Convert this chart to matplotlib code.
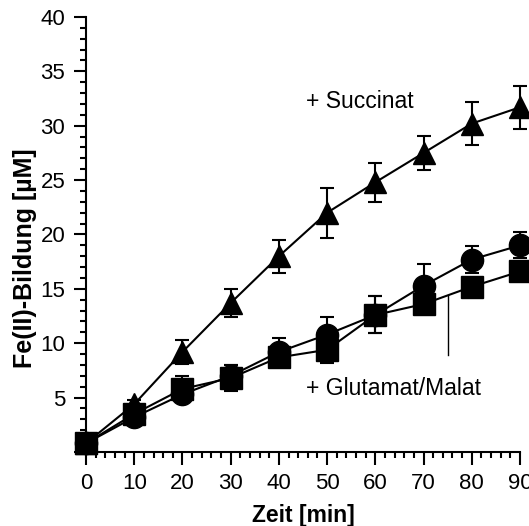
import numpy as np
import matplotlib.pyplot as plt
from matplotlib.ticker import MultipleLocator, FuncFormatter

plt.rcParams['font.family'] = ['Liberation Sans', 'DejaVu Sans']

zeit = [0, 10, 20, 30, 40, 50, 60, 70, 80, 90]

succinat = [0.8, 4.4, 9.2, 13.7, 18.0, 22.0, 24.8, 27.5, 30.2, 31.7]
succinat_err = [0.3, 0.4, 1.1, 1.3, 1.5, 2.3, 1.8, 1.6, 2.0, 2.0]

glut_kreis = [0.8, 3.2, 5.3, 7.0, 9.2, 10.8, 12.6, 15.3, 17.7, 19.0]
glut_kreis_err = [0.3, 0.4, 0.6, 1.0, 1.3, 1.6, 1.7, 2.0, 1.2, 1.2]

glut_quadrat = [0.8, 3.5, 5.8, 6.8, 8.7, 9.4, 12.6, 13.6, 15.2, 16.6]
glut_quadrat_err = [0.3, 0.4, 1.2, 1.2, 0.5, 1.2, 1.7, 0.5, 0.5, 0.5]

fig = plt.figure(figsize=(5.29, 5.26), dpi=100)
ax = fig.add_axes([0.1626, 0.1407, 0.8204, 0.827])

style = dict(color="black", lw=1.5, elinewidth=1.5, capsize=5, capthick=1.5,
             markersize=16, clip_on=False)
for y, err, m in [(succinat, succinat_err, "^"),
                  (glut_kreis, glut_kreis_err, "o"),
                  (glut_quadrat, glut_quadrat_err, "s")]:
    cont = ax.errorbar(zeit, y, yerr=err, marker=m, **style)
    for art in cont.lines[1] + cont.lines[2]:
        art.set_clip_on(False)

# Zeiger zur Glutamat/Malat-Kurve
ax.plot([75, 75], [14.4, 8.9], color="black", lw=1.0)

ax.text(56.8, 32.2, "+ Succinat", fontsize=16.5, ha="center", va="center")
ax.text(63.7, 5.8, "+ Glutamat/Malat", fontsize=16.5, ha="center", va="center")

ax.set_xlim(0, 90)
ax.set_ylim(0, 40)
ax.spines["top"].set_visible(False)
ax.spines["right"].set_visible(False)
ax.spines["left"].set_linewidth(1.5)
ax.spines["bottom"].set_linewidth(1.5)

ax.xaxis.set_major_locator(MultipleLocator(10))
ax.xaxis.set_minor_locator(MultipleLocator(2))
ax.yaxis.set_major_locator(MultipleLocator(5))
ax.yaxis.set_minor_locator(MultipleLocator(1))
ax.yaxis.set_major_formatter(FuncFormatter(lambda v, p: "" if v == 0 else f"{v:.0f}"))

ax.tick_params(which="major", length=9, width=1.5, labelsize=16, pad=6)
ax.tick_params(which="minor", length=4.5, width=1.5)

ax.set_xlabel("Zeit [min]", fontsize=16.5, fontweight="bold", labelpad=7)
ax.set_ylabel("Fe(II)-Bildung [µM]", fontsize=18, fontweight="bold")
ax.yaxis.set_label_coords(-0.113, 0.445)

fig.savefig("out.png", dpi=100)
